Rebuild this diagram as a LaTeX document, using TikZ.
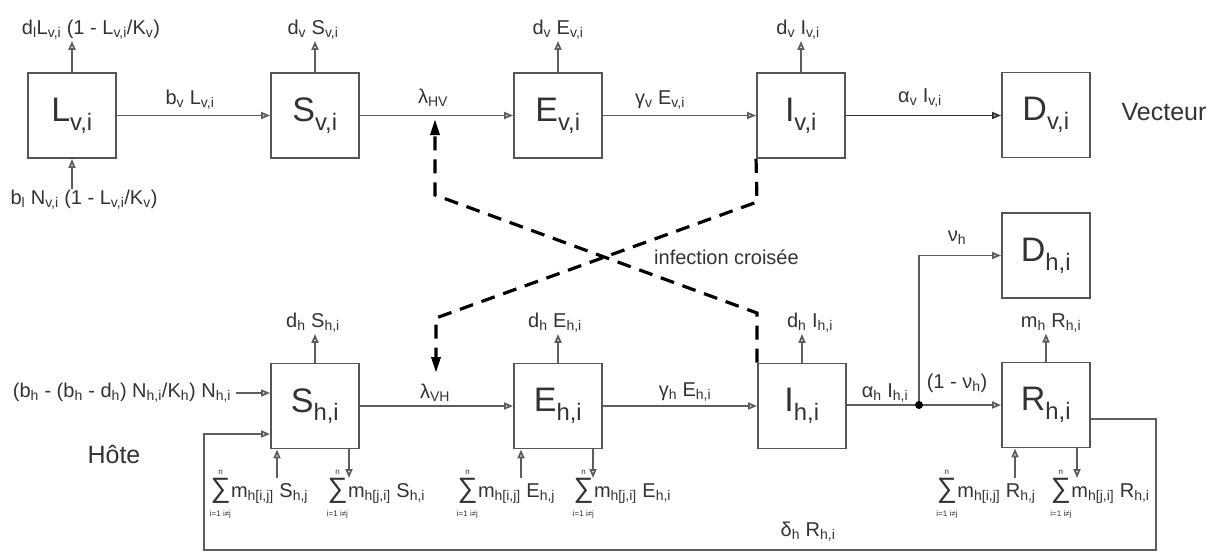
\documentclass[tikz,border=0pt]{standalone}
\usepackage{amsmath}
\usepackage{fontspec}
\setmainfont{Liberation Sans}
\usetikzlibrary{arrows.meta,calc}
\definecolor{txt}{HTML}{333333}
\definecolor{ln}{HTML}{5E5E5E}
\definecolor{bx}{HTML}{555555}
\newcommand{\sbx}[1]{\ensuremath{_{\text{#1}}}}
\newcommand{\msum}{\ensuremath{\mathop{\text{\fontsize{28}{28}\selectfont ∑}}\limits^{\text{\fontsize{8}{8}\selectfont n}}_{\text{\fontsize{8}{8}\selectfont i=1 i≠j}}}}
\begin{document}
\begin{tikzpicture}[x=1pt,y=-1pt,
  font=\fontsize{20}{23}\selectfont, text=txt,
  box/.style={draw=bx,line width=1.9pt,minimum width=88pt,minimum height=85pt,inner sep=0pt,font=\fontsize{34}{38}\selectfont},
  lab/.style={inner sep=1pt},
  big/.style={font=\fontsize{25}{28}\selectfont},
  flow/.style={draw=ln,line width=1.8pt,-{Triangle[open,length=9pt,width=7pt]}},
  cross/.style={draw=black,line width=3.2pt,dash pattern=on 14pt off 9pt,-{Triangle[length=16pt,width=9pt]}}]
\fill[white] (0,0) rectangle (1223,552);
\useasboundingbox (0,0) rectangle (1223,552);

% vector row
\node[box] (Lv) at (72,115.5) {L\sbx{v,i}};
\node[box] (Sv) at (315,115.5) {S\sbx{v,i}};
\node[box] (Ev) at (558,115.5) {E\sbx{v,i}};
\node[box] (Iv) at (801,115.5) {I\sbx{v,i}};
\node[box] (Dv) at (1046,115) {D\sbx{v,i}};
\node[big] (vec) at (1164,112) {Vecteur};

\node[lab] (dlLv) at (91,30) {d\sbx{l}L\sbx{v,i} (1 - L\sbx{v,i}/K\sbx{v})};
\node[lab] (blNv) at (84,200) {b\sbx{l} N\sbx{v,i} (1 - L\sbx{v,i}/K\sbx{v})};
\node[lab] (bvLv) at (190,100) {b\sbx{v} L\sbx{v,i}};
\node[lab] (dvSv) at (313,30) {d\sbx{v} S\sbx{v,i}};
\node[lab] (lHV) at (433,98) {λ\sbx{HV}};
\node[lab] (dvEv) at (558,30) {d\sbx{v} E\sbx{v,i}};
\node[lab] (gvEv) at (660,100) {γ\sbx{v} E\sbx{v,i}};
\node[lab] (dvIv) at (798,30) {d\sbx{v} I\sbx{v,i}};
\node[lab] (avIv) at (920,98) {α\sbx{v} I\sbx{v,i}};

\draw[flow] (Lv.north) -- (Lv.north |- dlLv.south);
\draw[flow] (Lv.south |- blNv.north) -- (Lv.south);
\draw[flow] (Sv.north) -- (Sv.north |- dvSv.south);
\draw[flow] (Ev.north) -- (Ev.north |- dvEv.south);
\draw[flow] (Iv.north) -- (Iv.north |- dvIv.south);
\draw[flow] (Lv) -- (Sv);
\draw[flow] (Sv) -- (Ev);
\draw[flow] (Ev) -- (Iv);
\draw[flow,draw=black!80] (Iv.east) -- (Iv.east -| Dv.west);

% host row
\node[box] (Sh) at (315,406) {S\sbx{h,i}};
\node[box] (Eh) at (558,406) {E\sbx{h,i}};
\node[box] (Ih) at (802,406) {I\sbx{h,i}};
\node[box] (Rh) at (1046,405) {R\sbx{h,i}};
\node[box] (Dh) at (1046,255.5) {D\sbx{h,i}};
\node[big] (hote) at (114,455) {Hôte};

\node[lab] (dhSh) at (313,323) {d\sbx{h} S\sbx{h,i}};
\node[lab] (dhEh) at (555,323) {d\sbx{h} E\sbx{h,i}};
\node[lab] (dhIh) at (810,323) {d\sbx{h} I\sbx{h,i}};
\node[lab] (mhRh) at (1051,323) {m\sbx{h} R\sbx{h,i}};
\node[lab] (inflow) at (122,393) {(b\sbx{h} - (b\sbx{h} - d\sbx{h}) N\sbx{h,i}/K\sbx{h}) N\sbx{h,i}};
\node[lab] (lVH) at (435,393) {λ\sbx{VH}};
\node[lab] (ghEh) at (685,392) {γ\sbx{h} E\sbx{h,i}};
\node[lab] (ahIh) at (885,393) {α\sbx{h} I\sbx{h,i}};
\node[lab] (onu) at (957,383) {(1 - ν\sbx{h})};
\node[lab] (nuh) at (957,238) {ν\sbx{h}};
\node[lab] (delh) at (808,532) {δ\sbx{h} R\sbx{h,i}};

\node[lab] (sS1) at (259,494) {\msum m\sbx{h[i,j]} S\sbx{h,j}};
\node[lab] (sS2) at (376,494) {\msum m\sbx{h[j,i]} S\sbx{h,i}};
\node[lab] (sE1) at (506,494) {\msum m\sbx{h[i,j]} E\sbx{h,j}};
\node[lab] (sE2) at (622,494) {\msum m\sbx{h[j,i]} E\sbx{h,i}};
\node[lab] (sR1) at (986,494) {\msum m\sbx{h[i,j]} R\sbx{h,j}};
\node[lab] (sR2) at (1100,494) {\msum m\sbx{h[j,i]} R\sbx{h,i}};

\draw[flow] (Sh.north) -- (Sh.north |- dhSh.south);
\draw[flow] (Eh.north) -- (Eh.north |- dhEh.south);
\draw[flow] (Ih.north) -- (Ih.north |- dhIh.south);
\draw[flow] (Rh.north) -- (Rh.north |- mhRh.south);
\draw[flow] ([xshift=4pt]inflow.east) -- (inflow.east -| Sh.west);
\draw[flow] (Sh) -- (Eh);
\draw[flow] (Eh) -- (Ih);
\coordinate (jn) at (919,405);
\draw[draw=ln,line width=1.8pt] (Ih.east |- jn) -- (jn);
\draw[flow] (jn) -- (jn -| Rh.west);
\draw[flow] (jn) |- (Dh.west);
\fill[black] (jn) circle (4pt);

% migration arrows
\coordinate (a1) at (277,478); \coordinate (a2) at (349,478);
\coordinate (a3) at (521,478); \coordinate (a4) at (593,478);
\coordinate (a5) at (1015,478); \coordinate (a6) at (1077,478);
\draw[flow] (a1) -- (a1 |- Sh.south);
\draw[flow] (a2 |- Sh.south) -- (a2);
\draw[flow] (a3) -- (a3 |- Eh.south);
\draw[flow] (a4 |- Eh.south) -- (a4);
\draw[flow] (a5) -- (a5 |- Rh.south);
\draw[flow] (a6 |- Rh.south) -- (a6);

% recovery feedback
\draw[flow] ([yshift=-14pt]Rh.east) -- (1156,419) -- (1156,550) -- (204,550) -- (204,434) -- ([yshift=-28pt]Sh.west);

% cross infection
\coordinate (tHV) at (435,119);
\coordinate (tVH) at (436,373);
\draw[cross] (Ih.north west) -- (757,313) -- (435,195) -- (tHV);
\draw[cross] (Iv.south west) -- (757,202) -- (436,318) -- (tVH);
\node[lab,anchor=west] (cr) at (653,257) {infection croisée};
\end{tikzpicture}
\end{document}
